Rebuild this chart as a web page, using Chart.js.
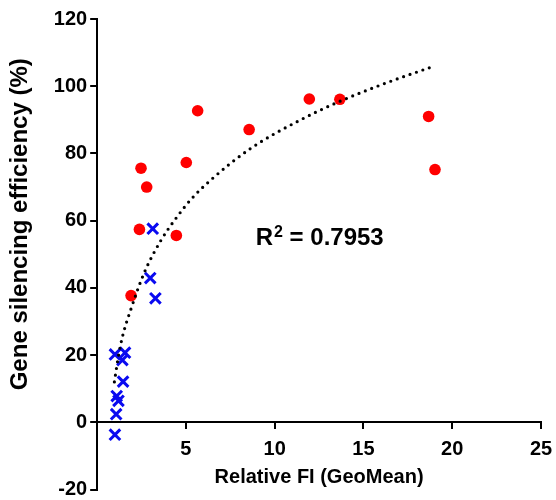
<!DOCTYPE html>
<html>
<head>
<meta charset="utf-8">
<script src="https://cdn.jsdelivr.net/npm/chart.js@4"></script>
<style>
  html, body { margin: 0; padding: 0; background: #fff; }
  #wrap { width: 556px; height: 500px; }
</style>
</head>
<body>
<div id="wrap"><canvas id="chart" width="556" height="500"></canvas></div>
<script>
// red circles
const redX = [1.91, 2.38, 2.47, 2.79, 4.46, 5.02, 5.66, 8.56, 11.95, 13.67, 18.67, 19.03];
const redY = [37.7, 57.4, 75.6, 70.0, 55.6, 77.3, 92.7, 87.1, 96.2, 96.1, 91.0, 75.2];

// blue crosses
const blueX = [3.13, 2.99, 3.28, 1.0, 1.57, 1.42, 1.46, 1.1, 1.2, 1.07, 1.0];
const blueY = [57.6, 42.9, 36.9, 20.2, 20.7, 18.5, 12.1, 7.8, 6.4, 2.4, -3.7];

// dotted trend curve
const trendX = [0.97, 1.07, 1.2, 1.44, 1.91, 2.66, 3.6, 4.44, 5.28, 6.4, 8.65, 11.46, 13.67, 16.14, 19.04];
const trendY = [12.0, 15.5, 19.8, 25.8, 33.8, 44.6, 54.2, 60.7, 66.3, 72.1, 81.5, 90.0, 95.5, 100.7, 106.1];

const xTicks = [5, 10, 15, 20, 25];
const yTicks = [-20, 0, 20, 40, 60, 80, 100, 120];

const rSquared = "0.7953";
const rLabelX = 8.93;
const rLabelY = 52.8;

const FONT = "'Liberation Sans', Arial, sans-serif";

function toPoints(xs, ys) {
  return xs.map((x, i) => ({ x: x, y: ys[i] }));
}

// let layout.padding alone decide the plot edges
function noEdgePadding(axis) {
  axis.paddingLeft = 0;
  axis.paddingRight = 0;
  axis.paddingTop = 0;
  axis.paddingBottom = 0;
}

// R² text drawn at a data position
const rLabel = {
  id: "rLabel",
  afterDatasetsDraw(chart) {
    const ctx = chart.ctx;
    let x = chart.scales.x.getPixelForValue(rLabelX);
    const y = chart.scales.y.getPixelForValue(rLabelY);
    ctx.save();
    ctx.fillStyle = "#000";
    ctx.textBaseline = "alphabetic";
    ctx.textAlign = "left";
    ctx.font = "bold 24px " + FONT;
    ctx.fillText("R", x, y);
    x += ctx.measureText("R").width + 1;
    ctx.font = "bold 16px " + FONT;
    ctx.fillText("2", x, y - 8);
    x += ctx.measureText("2").width;
    ctx.font = "bold 24px " + FONT;
    ctx.fillText(" = " + rSquared, x, y);
    ctx.restore();
  }
};

new Chart(document.querySelector("#chart"), {
  type: "scatter",
  data: {
    datasets: [
      {
        label: "fit",
        type: "line",
        data: toPoints(trendX, trendY),
        borderColor: "#000",
        borderWidth: 3.2,
        borderDash: [0, 6.8],
        borderCapStyle: "round",
        pointRadius: 0,
        fill: false,
        cubicInterpolationMode: "monotone"
      },
      {
        label: "siRNA",
        data: toPoints(redX, redY),
        pointStyle: "circle",
        pointRadius: 5.8,
        pointBackgroundColor: "rgb(255, 0, 0)",
        pointBorderWidth: 0
      },
      {
        label: "control",
        data: toPoints(blueX, blueY),
        pointStyle: "crossRot",
        pointRadius: 7.5,
        pointBorderColor: "rgb(10, 10, 240)",
        pointBorderWidth: 3
      }
    ]
  },
  options: {
    responsive: false,
    animation: false,
    layout: { padding: { left: 2, right: 15, top: 19, bottom: 10 } },
    plugins: {
      legend: { display: false },
      tooltip: { enabled: false }
    },
    scales: {
      x: {
        type: "linear",
        position: { y: 0 },
        min: 0,
        max: 25,
        afterBuildTicks: (axis) => { axis.ticks = xTicks.map(v => ({ value: v })); },
        afterFit: noEdgePadding,
        grid: { drawOnChartArea: false, color: "#000", lineWidth: 2, tickLength: 6 },
        border: { color: "#000", width: 2 },
        ticks: {
          color: "#000",
          padding: 9,
          font: { family: FONT, size: 20, weight: "bold" }
        },
        title: {
          display: true,
          text: "Relative FI (GeoMean)",
          color: "#000",
          padding: { top: -5, bottom: 4 },
          font: { family: FONT, size: 20, weight: "bold" }
        }
      },
      y: {
        type: "linear",
        min: -20,
        max: 120,
        afterBuildTicks: (axis) => { axis.ticks = yTicks.map(v => ({ value: v })); },
        afterFit: noEdgePadding,
        grid: { drawOnChartArea: false, color: "#000", lineWidth: 2, tickLength: 7 },
        border: { color: "#000", width: 2 },
        ticks: {
          color: "#000",
          padding: 3,
          font: { family: FONT, size: 20, weight: "bold", lineHeight: 0.8 }
        },
        title: {
          display: true,
          text: "         Gene silencing efficiency (%)",
          color: "#000",
          padding: { top: 4, bottom: 16 },
          font: { family: FONT, size: 24, weight: "bold" }
        }
      }
    }
  },
  plugins: [rLabel]
});
</script>
</body>
</html>
